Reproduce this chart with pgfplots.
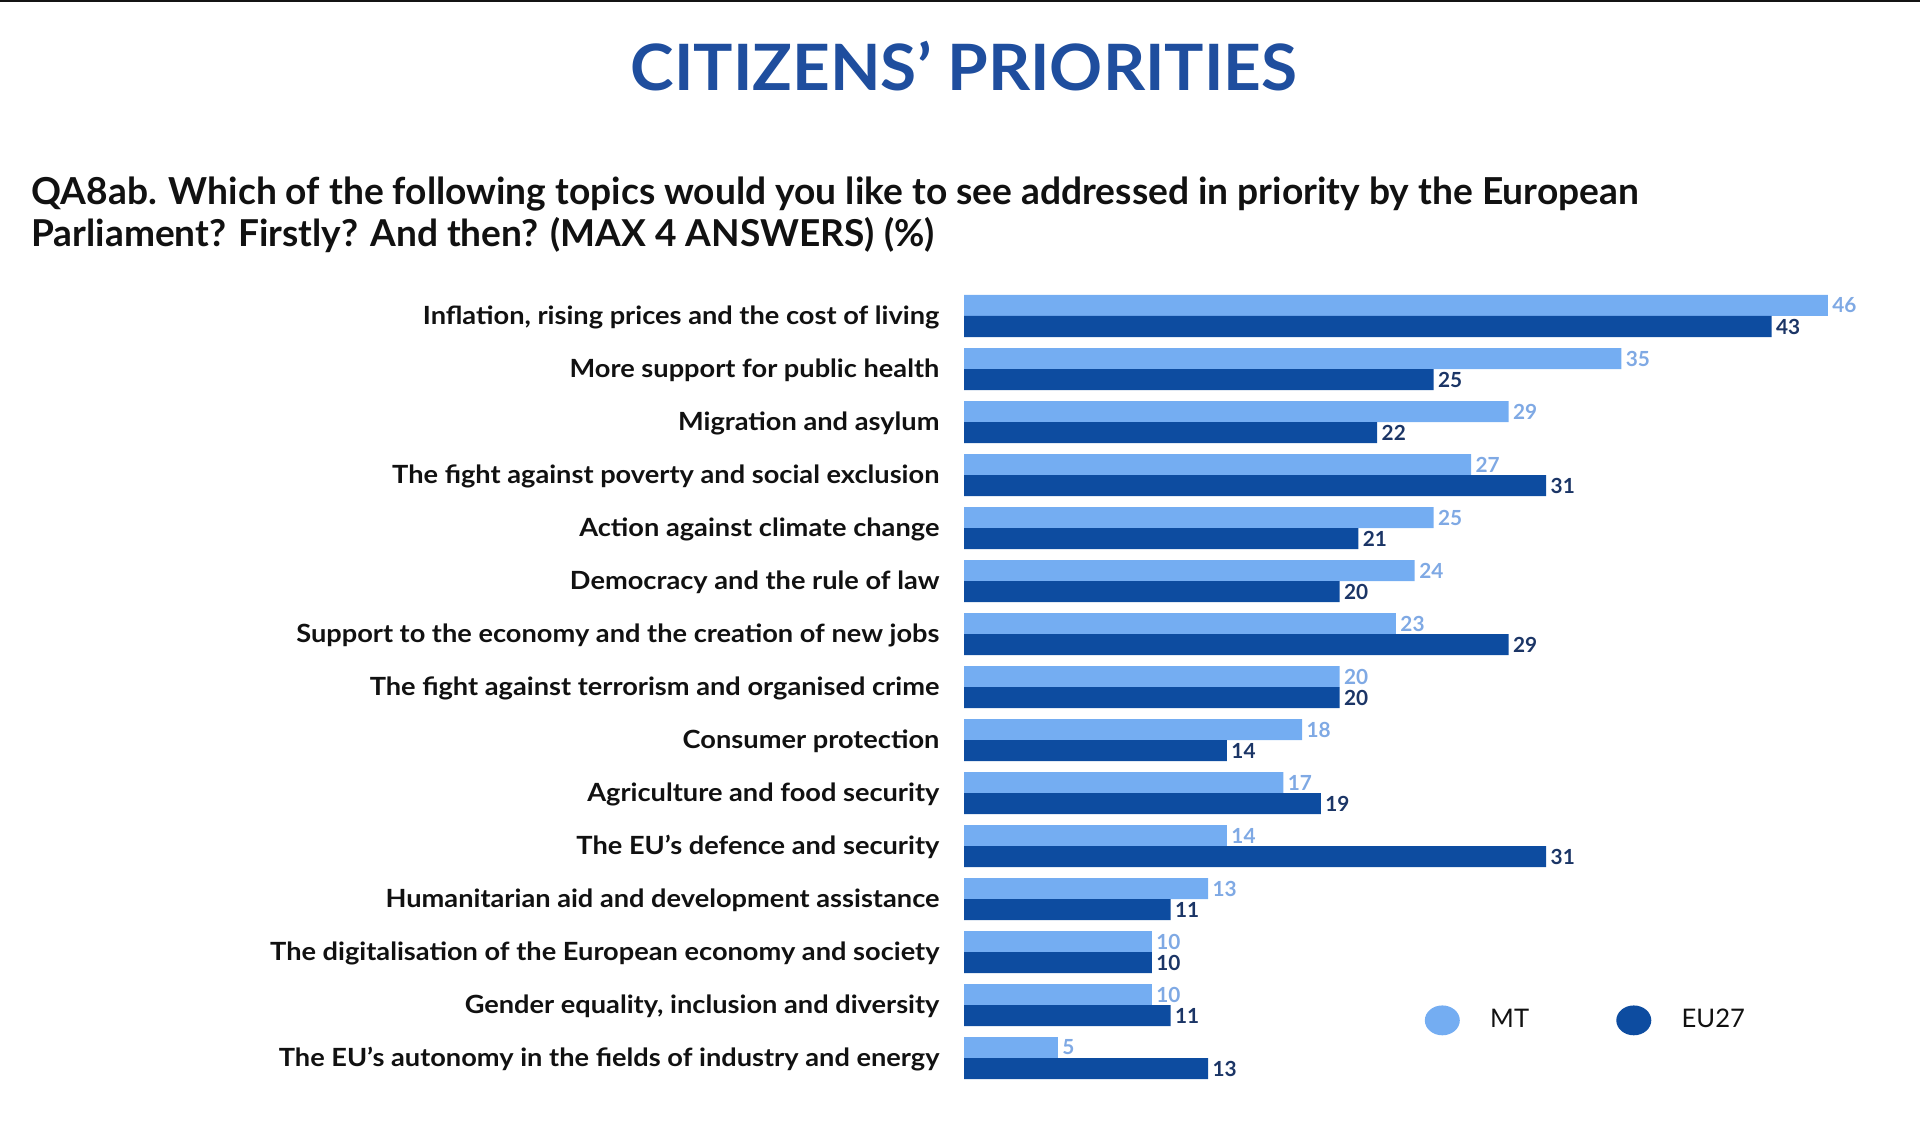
\documentclass[border=0pt]{standalone}
\usepackage{pgfplots}
\pgfplotsset{compat=1.18}
\usepackage{fontspec}
\setmainfont{Lato}
\usepackage{graphicx}
\definecolor{mtc}{HTML}{74ADF2}
\definecolor{euc}{HTML}{0D4CA0}
\definecolor{mtlab}{HTML}{7FA9E4}
\definecolor{eulab}{HTML}{1B3566}
\definecolor{titlec}{HTML}{1F4E9E}
\definecolor{txt}{HTML}{111111}
\begin{document}
\begin{tikzpicture}[x=0.375pt,y=0.375pt]
\path (0,0) rectangle (1920,1127);
\fill[black!92] (0,1127) rectangle (1920,1125);
\node[anchor=base, text=titlec, inner sep=0pt] at (964,1036)
  {\resizebox{250pt}{18.5pt}{\bfseries CITIZENS’ PRIORITIES}};
\node[anchor=base west, text=txt, inner sep=0pt] at (31,922.5)
  {\resizebox{602.6pt}{!}{\fontsize{13}{15}\selectfont\bfseries QA8ab. Which of the following topics would you like to see addressed in priority by the European}};
\node[anchor=base west, text=txt, inner sep=0pt] at (31,880)
  {\resizebox{338.6pt}{!}{\fontsize{13}{15}\selectfont\bfseries Parliament? Firstly? And then? (MAX 4 ANSWERS) (\%)}};
\begin{axis}[
  at={(361.5pt,314.0625pt)}, anchor=north west,
  scale only axis, width=352.125pt, height=298.125pt,
  xbar, xmin=0, xmax=50, ymin=-0.5, ymax=14.5,
  hide x axis,
  axis y line*=left, y axis line style={draw=none},
  major tick length=0pt,
  /pgf/number format/assume math mode=true,
  ytick={0,...,14},
  yticklabels={
    The EU’s autonomy in the fields of industry and energy,
    {Gender equality, inclusion and diversity},
    The digitalisation of the European economy and society,
    Humanitarian aid and development assistance,
    The EU’s defence and security,
    Agriculture and food security,
    Consumer protection,
    The fight against terrorism and organised crime,
    Support to the economy and the creation of new jobs,
    Democracy and the rule of law,
    Action against climate change,
    The fight against poverty and social exclusion,
    Migration and asylum,
    More support for public health,
    {Inflation, rising prices and the cost of living}},
  yticklabel style={font=\fontsize{9.4}{11}\selectfont\bfseries, text=txt, anchor=base east, inner xsep=0pt, yshift=-3.3pt, xscale=1.085},
  yticklabel shift=9pt,
  bar width=7.875pt,
  clip=false,
  point meta=x,
  nodes near coords,
  nodes near coords style={font=\fontsize{7.8}{9}\selectfont\bfseries, anchor=west, inner xsep=1.5pt},
  legend columns=2,
  legend style={at={(axis cs:24.51,0.71)}, anchor=west, draw=none, fill=none, inner sep=0pt,
    font=\fontsize{9.6}{11}\selectfont, text=txt,
    /tikz/every odd column/.append style={column sep=9.4pt},
    /tikz/every even column/.append style={column sep=30.7pt}},
]
\addplot[fill=mtc, draw=none, bar shift=3.9375pt,
  every node near coord/.append style={text=mtlab},
  legend image code/.code={\fill[mtc] (6.56pt,0pt) ellipse [x radius=6.56pt, y radius=5.6pt];}]
  coordinates {(5,0) (10,1) (10,2) (13,3) (14,4) (17,5) (18,6) (20,7) (23,8) (24,9) (25,10) (27,11) (29,12) (35,13) (46,14)};
\addlegendentry{MT}
\addplot[fill=euc, draw=none, bar shift=-3.9375pt,
  every node near coord/.append style={text=eulab},
  legend image code/.code={\fill[euc] (6.56pt,0pt) ellipse [x radius=6.56pt, y radius=5.6pt];}]
  coordinates {(13,0) (11,1) (10,2) (11,3) (31,4) (19,5) (14,6) (20,7) (29,8) (20,9) (21,10) (31,11) (22,12) (25,13) (43,14)};
\addlegendentry{EU27}
\end{axis}
\pgfresetboundingbox
\path (0,0) rectangle (1920,1127);
\end{tikzpicture}
\end{document}
